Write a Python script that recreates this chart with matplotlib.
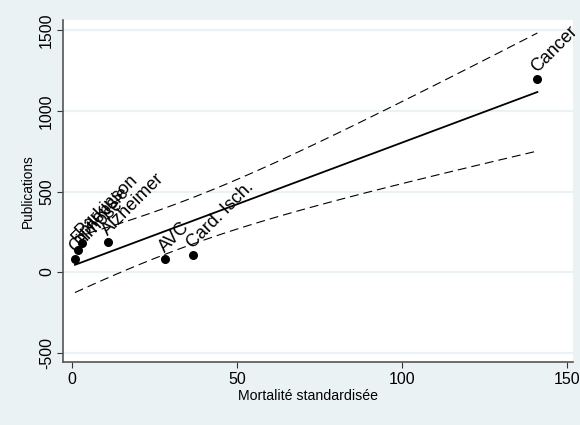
import numpy as np
import matplotlib
matplotlib.use("Agg")
import matplotlib.pyplot as plt

plt.rcParams["axes.unicode_minus"] = False
plt.rcParams["font.family"] = ["Liberation Sans", "DejaVu Sans"]

# données
maladies = ["Cirrhose", "Epilepsie", "Parkinson", "Alzheimer", "AVC", "Card. Isch.", "Cancer"]
mortalite = [0.9, 1.8, 3.0, 10.9, 28.2, 36.7, 141.0]
publications = [81, 137, 180, 186, 81, 106, 1199]

x = np.array(mortalite)
y = np.array(publications)
n = len(x)

# droite de régression + IC 95% (comme lfitci)
pente, ordonnee = np.polyfit(x, y, 1)
residus = y - (pente * x + ordonnee)
s = np.sqrt(np.sum(residus ** 2) / (n - 2))
t_crit = {5: 2.571, 6: 2.447, 7: 2.365}[n - 2]
xs = np.linspace(x.min(), x.max(), 100)
fit = pente * xs + ordonnee
demi = t_crit * s * np.sqrt(1 / n + (xs - x.mean()) ** 2 / np.sum((x - x.mean()) ** 2))

fond = "#EAF2F3"
fig = plt.figure(figsize=(5.8, 4.25), dpi=100, facecolor=fond)
ax = fig.add_axes([0.1086, 0.148, 0.8794, 0.805])
ax.set_facecolor("white")

ax.plot(xs, fit, color="black", lw=1.3)
ax.plot(xs, fit + demi, color="black", lw=0.8, ls=(0, (8, 4.5)))
ax.plot(xs, fit - demi, color="black", lw=0.8, ls=(0, (8, 4.5)))
ax.scatter(x, y, s=30, color="black", zorder=3)

for nom, xi, yi in zip(maladies, mortalite, publications):
    ax.annotate(nom, (xi, yi), xytext=(2, 2), textcoords="offset points",
                rotation=45, fontsize=13, ha="left", va="bottom",
                rotation_mode="anchor")

ax.set_xlim(-2.73, 151.8)
ax.set_ylim(-559, 1565)
ax.set_xticks([0, 50, 100, 150])
ax.set_yticks([-500, 0, 500, 1000, 1500])
ax.tick_params(axis="y", labelrotation=90, labelsize=11.5, length=4.3, color="#333333", pad=2)
ax.tick_params(axis="x", labelsize=11.5, length=4, color="#333333", pad=3)
for lbl in ax.get_yticklabels():
    lbl.set_va("center")
ax.grid(axis="y", color=fond, lw=1.6)
ax.set_axisbelow(True)
for cote in ["top", "right"]:
    ax.spines[cote].set_visible(False)
for cote in ["left", "bottom"]:
    ax.spines[cote].set_color("#555555")
    ax.spines[cote].set_linewidth(1.2)

ax.set_xlabel("Mortalité standardisée", fontsize=10.2)
ax.set_ylabel("Publications", fontsize=9.8)
ax.xaxis.set_label_coords(0.48, -0.079)
ax.yaxis.set_label_coords(-0.055, 0.5)

fig.savefig("out.png", dpi=100, facecolor=fond)
